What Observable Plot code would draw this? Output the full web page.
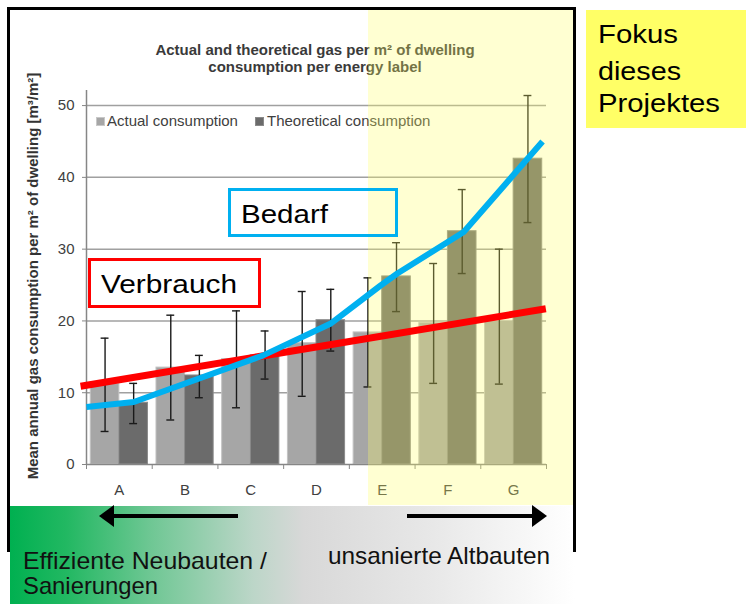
<!DOCTYPE html>
<html>
<head>
<meta charset="utf-8">
<script src="https://cdn.jsdelivr.net/npm/d3@7"></script>
<script src="https://cdn.jsdelivr.net/npm/@observablehq/plot@0.6"></script>
<style>
  html, body { margin: 0; padding: 0; background: #fff; }
  #root { position: relative; width: 746px; height: 604px; overflow: hidden; background: #fff;
          font-family: "Liberation Sans", Arial, sans-serif; }
  .layer { position: absolute; left: 0; top: 0; }
  #band { position: absolute; left: 10px; top: 506px; width: 565px; height: 98px;
    background: linear-gradient(to right, #00b050 0%, #22b862 10%, #6fc794 25%, #bcd6c8 43%, #d8d8d8 52%, #e8e8e8 75%, #ffffff 100%); }
  #focus { position: absolute; left: 368px; top: 10px; width: 205px; height: 495px;
    background: rgba(255, 255, 100, 0.29); }
</style>
</head>
<body>
<div id="root">
  <div id="band"></div>
  <div id="base" class="layer"></div>
  <svg id="annoA" class="layer" width="746" height="604"></svg>
  <div id="focus"></div>
  <div id="lines" class="layer"></div>
  <svg id="annoB" class="layer" width="746" height="604"></svg>
</div>
<script>
// ---------------- data ----------------
const categories = ["A", "B", "C", "D", "E", "F", "G"];
const actual      = [11.2, 13.5, 14.7, 16.9, 18.4, 19.7, 20.0];
const actualLow   = [4.6, 6.2, 7.9, 9.5, 10.8, 11.3, 11.2];
const actualHigh  = [17.6, 20.8, 21.4, 24.1, 26.0, 28.0, 30.0];
const theoretical = [8.6, 12.4, 15.2, 20.1, 26.2, 32.5, 42.6];
const theoLow     = [5.7, 9.3, 11.9, 15.8, 21.3, 26.6, 33.7];
const theoHigh    = [11.3, 15.2, 18.6, 24.4, 30.9, 38.3, 51.4];
const yTicks = [0, 10, 20, 30, 40, 50];

// hand-drawn trend lines (position along the label axis, value)
const bedarfPos = [0.0, 0.72, 2.69, 3.71, 4.47, 4.73, 5.74, 6.94];
const bedarfVal = [8.0, 8.7, 15.2, 19.6, 24.9, 26.6, 32.4, 45.0];
const verbrauchPos = [-0.09, 6.99];
const verbrauchVal = [10.9, 21.7];

const titleLines = ["Actual and theoretical gas per m\u00b2 of dwelling", "consumption per energy label"];
const legendLabels = ["Actual consumption", "Theoretical consumption"];
const yLabel = "Mean annual gas consumption per m\u00b2 of dwelling [m\u00b3/m\u00b2]";

// ---------------- chart ----------------
const rows = categories.map((c, i) => ({
  c, i, actual: actual[i], aLo: actualLow[i], aHi: actualHigh[i],
  theo: theoretical[i], tLo: theoLow[i], tHi: theoHigh[i]
}));
const off = 0.065, cap = 0.06;
const cA = d => d.i + (off + 0.5) / 2;
const cT = d => d.i + (0.5 + 1 - off) / 2;

const dims = {
  width: 746, height: 604,
  marginLeft: 86, marginRight: 200, marginTop: 90, marginBottom: 140
};
const fontFamily = "'Liberation Sans', Arial, sans-serif";

const base = Plot.plot({
  ...dims,
  x: {domain: [0, 7]},
  y: {domain: [0, 52.1]},
  style: {background: "transparent", fontFamily, fontSize: "15px", color: "#404040"},
  marks: [
    Plot.ruleY(yTicks.slice(1), {stroke: "#a0a0a0", strokeWidth: 1.5}),
    Plot.rectY(rows, {x1: d => d.i + off, x2: d => d.i + 0.5, y1: 0, y2: "actual",
      fill: "#a6a6a6", stroke: "#c2c2c2", strokeWidth: 1}),
    Plot.rectY(rows, {x1: d => d.i + 0.5, x2: d => d.i + 1 - off, y1: 0, y2: "theo",
      fill: "#6b6b6b", stroke: "#8a8a8a", strokeWidth: 1}),
    // error bars
    Plot.ruleX(rows, {x: cA, y1: "aLo", y2: "aHi", stroke: "#1a1a1a", strokeWidth: 1.4}),
    Plot.ruleY(rows, {y: "aLo", x1: d => cA(d) - cap, x2: d => cA(d) + cap, stroke: "#1a1a1a", strokeWidth: 1.4}),
    Plot.ruleY(rows, {y: "aHi", x1: d => cA(d) - cap, x2: d => cA(d) + cap, stroke: "#1a1a1a", strokeWidth: 1.4}),
    Plot.ruleX(rows, {x: cT, y1: "tLo", y2: "tHi", stroke: "#1a1a1a", strokeWidth: 1.4}),
    Plot.ruleY(rows, {y: "tLo", x1: d => cT(d) - cap, x2: d => cT(d) + cap, stroke: "#1a1a1a", strokeWidth: 1.4}),
    Plot.ruleY(rows, {y: "tHi", x1: d => cT(d) - cap, x2: d => cT(d) + cap, stroke: "#1a1a1a", strokeWidth: 1.4}),
    // axes
    Plot.ruleY([0], {stroke: "#868686", strokeWidth: 1.5}),
    Plot.ruleX([0], {y1: 0, y2: 52.1, stroke: "#868686", strokeWidth: 1.5}),
    Plot.axisY({ticks: yTicks, tickSize: 4, tickPadding: 8, label: null, stroke: "#868686", fill: "#404040", fontSize: 15}),
    Plot.axisX({ticks: d3.range(0, 8), tickSize: 5, tickFormat: () => "", label: null, stroke: "#868686"}),
    Plot.axisX({ticks: categories.map((c, i) => i + 0.5), tickSize: 0, tickPadding: 20,
      tickFormat: v => categories[Math.floor(v)], label: null, fill: "#404040", fontSize: 15})
  ]
});
document.getElementById("base").appendChild(base);

const bedarf = bedarfPos.map((p, i) => ({p, v: bedarfVal[i]}));
const verbrauch = verbrauchPos.map((p, i) => ({p, v: verbrauchVal[i]}));
const lines = Plot.plot({
  ...dims,
  x: {domain: [0, 7], axis: null},
  y: {domain: [0, 52.1], axis: null},
  style: {background: "transparent"},
  marks: [
    Plot.line(verbrauch, {x: "p", y: "v", stroke: "#ff0000", strokeWidth: 7, strokeLinecap: "butt"}),
    Plot.line(bedarf, {x: "p", y: "v", stroke: "#00b0f0", strokeWidth: 6, strokeLinecap: "butt", strokeLinejoin: "round"})
  ]
});
document.getElementById("lines").appendChild(lines);

// ---------------- annotations ----------------
const ns = "http://www.w3.org/2000/svg";
function el(parent, tag, attrs, text) {
  const e = document.createElementNS(ns, tag);
  for (const k in attrs) e.setAttribute(k, attrs[k]);
  if (text != null) e.textContent = text;
  parent.appendChild(e);
  return e;
}
const A = document.getElementById("annoA");
const B = document.getElementById("annoB");
const ff = "'Liberation Sans', Arial, sans-serif";

// title
el(A, "text", {x: 315, y: 55, "text-anchor": "middle", "font-family": ff, "font-size": 15, "font-weight": "bold", fill: "#3a3a3a"}, titleLines[0]);
el(A, "text", {x: 315, y: 72, "text-anchor": "middle", "font-family": ff, "font-size": 15, "font-weight": "bold", fill: "#3a3a3a"}, titleLines[1]);
// legend
el(A, "rect", {x: 96.5, y: 117.5, width: 8, height: 8, fill: "#a6a6a6", stroke: "#c8c8c8"});
el(A, "text", {x: 107, y: 126, "font-family": ff, "font-size": 15, fill: "#404040"}, legendLabels[0]);
el(A, "rect", {x: 255.5, y: 117.5, width: 8, height: 8, fill: "#6b6b6b", stroke: "#8a8a8a"});
el(A, "text", {x: 267, y: 126, "font-family": ff, "font-size": 15, fill: "#404040"}, legendLabels[1]);
// y label
el(A, "text", {transform: "translate(37.5,276) rotate(-90)", "text-anchor": "middle", "font-family": ff,
  "font-size": 15, "font-weight": "bold", fill: "#333"}, yLabel);

// boxes
el(B, "rect", {x: 229.5, y: 189.5, width: 167, height: 46, fill: "none", stroke: "#00b0f0", "stroke-width": 3});
el(B, "text", {x: 241, y: 223, "font-family": ff, "font-size": 26, fill: "#000", textLength: 87, lengthAdjust: "spacingAndGlyphs"}, "Bedarf");
el(B, "rect", {x: 89.5, y: 259.5, width: 170, height: 47, fill: "#fff", stroke: "#ff0000", "stroke-width": 3});
el(B, "text", {x: 101, y: 293, "font-family": ff, "font-size": 26, fill: "#000", textLength: 136, lengthAdjust: "spacingAndGlyphs"}, "Verbrauch");

// frame
el(B, "path", {d: "M8.5,552 V8.5 H574.5 V552", fill: "none", stroke: "#000", "stroke-width": 3});

// Fokus box
el(B, "rect", {x: 586, y: 10, width: 160, height: 118, fill: "#ffff66"});
el(B, "text", {x: 598, y: 43, "font-family": ff, "font-size": 26, fill: "#000", textLength: 80, lengthAdjust: "spacingAndGlyphs"}, "Fokus");
el(B, "text", {x: 598, y: 80, "font-family": ff, "font-size": 26, fill: "#000", textLength: 83, lengthAdjust: "spacingAndGlyphs"}, "dieses");
el(B, "text", {x: 598, y: 112, "font-family": ff, "font-size": 26, fill: "#000", textLength: 122, lengthAdjust: "spacingAndGlyphs"}, "Projektes");

// arrows
el(B, "line", {x1: 238, y1: 516, x2: 112, y2: 516, stroke: "#000", "stroke-width": 4});
el(B, "path", {d: "M99,516 L114,505 L114,527 Z", fill: "#000"});
el(B, "line", {x1: 407, y1: 516, x2: 534, y2: 516, stroke: "#000", "stroke-width": 4});
el(B, "path", {d: "M547,516 L532,505 L532,527 Z", fill: "#000"});

// bottom texts
el(B, "text", {x: 23, y: 569, "font-family": ff, "font-size": 24, fill: "#111", textLength: 244, lengthAdjust: "spacingAndGlyphs"}, "Effiziente Neubauten /");
el(B, "text", {x: 23, y: 594, "font-family": ff, "font-size": 24, fill: "#111", textLength: 135, lengthAdjust: "spacingAndGlyphs"}, "Sanierungen");
el(B, "text", {x: 328, y: 564, "font-family": ff, "font-size": 24, fill: "#111", textLength: 222, lengthAdjust: "spacingAndGlyphs"}, "unsanierte Altbauten");
</script>
</body>
</html>
